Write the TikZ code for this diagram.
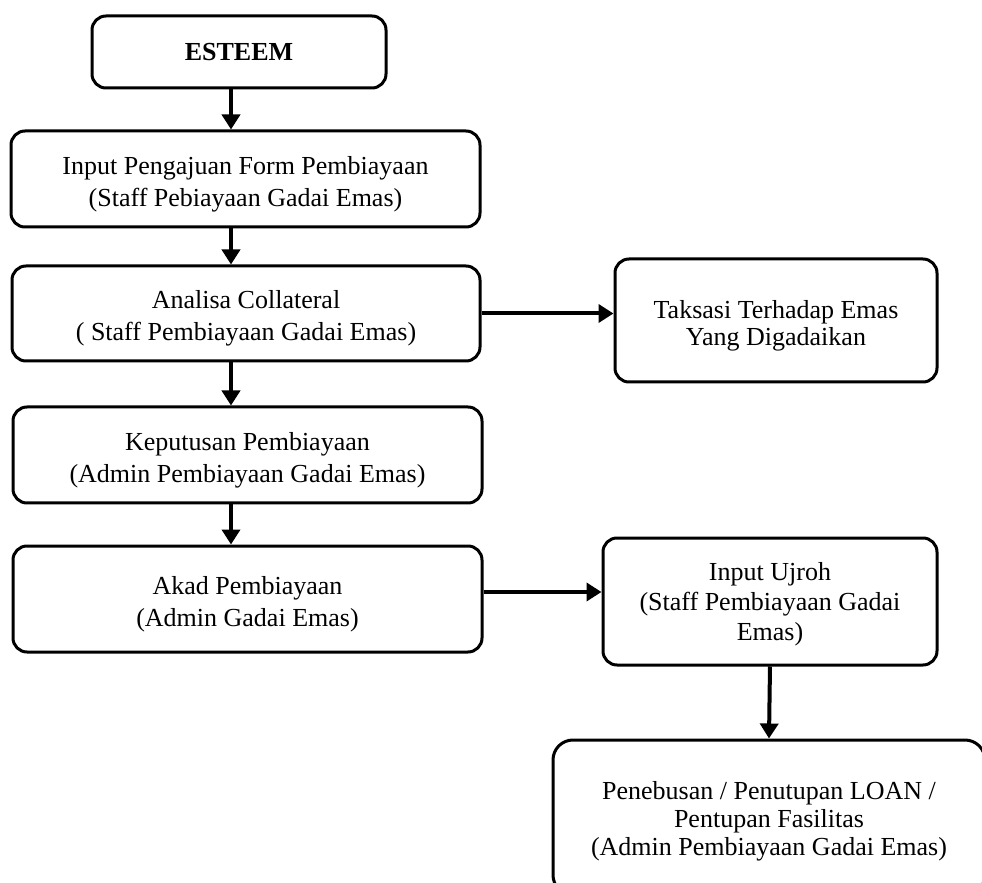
\documentclass[tikz,border=0pt]{standalone}
\usepackage{fontspec}
\setmainfont{Liberation Serif}
\usetikzlibrary{arrows.meta}
\newcommand{\toppad}[1]{\rule{0pt}{#1}}
\begin{document}
\begin{tikzpicture}[x=0.5pt,y=-0.5pt,
  box/.style={draw, line width=1.5pt, rounded corners=7pt, align=center, inner sep=0pt,
    font=\fontsize{13}{16}\selectfont},
  conn/.style={line width=2pt, -{Triangle[width=9pt,length=7.5pt]}}]
\useasboundingbox (0,0) rectangle (982,883);
\clip (0,0) rectangle (982,883);
\node[box, minimum width=147pt, minimum height=36pt, font=\fontsize{13}{16}\selectfont\bfseries] (esteem) at (239,52) {ESTEEM};
\node[box, minimum width=234.5pt, minimum height=48pt] (input) at (245.5,179)
  {\toppad{14pt}Input Pengajuan Form Pembiayaan\\(Staff Pebiayaan Gadai Emas)};
\node[box, minimum width=234pt, minimum height=47.5pt] (analisa) at (246,313.5)
  {\toppad{14pt}Analisa Collateral\\( Staff Pembiayaan Gadai Emas)};
\node[box, minimum width=234.5pt, minimum height=48pt] (keput) at (247.5,455)
  {\toppad{14pt}Keputusan Pembiayaan\\(Admin Pembiayaan Gadai Emas)};
\node[box, minimum width=234.5pt, minimum height=53pt] (akad) at (247.5,599)
  {\toppad{14pt}Akad Pembiayaan\\(Admin Gadai Emas)};
\node[box, minimum width=161pt, minimum height=61.5pt, font=\fontsize{13}{13.5}\selectfont] (taksasi) at (776,320.5)
  {\toppad{14pt}Taksasi Terhadap Emas\\Yang Digadaikan};
\node[box, minimum width=167pt, minimum height=63.5pt, font=\fontsize{13}{15}\selectfont] (ujroh) at (770,601.5)
  {\toppad{12pt}Input Ujroh\\(Staff Pembiayaan Gadai\\Emas)};
\node[box, minimum width=216pt, minimum height=77.5pt, rounded corners=10pt, font=\fontsize{13}{14}\selectfont] (final) at (769,817.5)
  {\toppad{13pt}Penebusan / Penutupan LOAN /\\Pentupan Fasilitas\\(Admin Pembiayaan Gadai Emas)};
\coordinate (col) at (231,0);
\coordinate (row2) at (0,592);
\draw[conn] (esteem.south -| col) -- (input.north -| col);
\draw[conn] (input.south -| col) -- (analisa.north -| col);
\draw[conn] (analisa.south -| col) -- (keput.north -| col);
\draw[conn] (keput.south -| col) -- (akad.north -| col);
\draw[conn] (analisa.east) -- (taksasi.west |- analisa.east);
\draw[conn] (akad.east |- row2) -- (ujroh.west |- row2);
\draw[conn] (ujroh.south) -- (final.north);
\end{tikzpicture}
\end{document}
